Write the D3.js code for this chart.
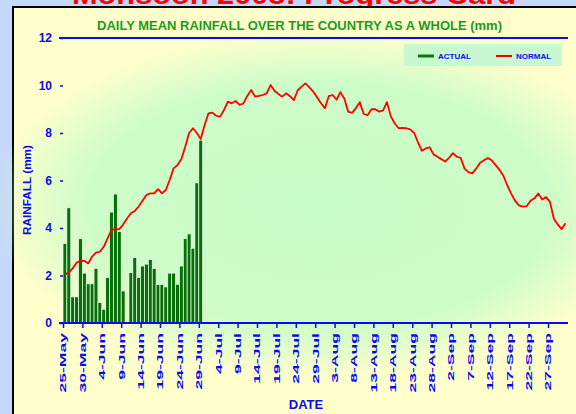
<!DOCTYPE html>
<html>
<head>
<meta charset="utf-8">
<script src="https://d3js.org/d3.v7.min.js"></script>
<style>
  body { margin: 0; background: #c6d8fa; }
  svg { display: block; }
</style>
</head>
<body>
<div class="canvas"></div>
<script>
// data (mm/day)
const startDay = "25-May-2008";
const actual = [3.35, 4.85, 1.1, 1.1, 3.55, 2.1, 1.65, 1.65, 2.3, 0.87, 0.58, 1.92,
    4.67, 5.43, 3.85, 1.35, 0, 2.12, 2.76, 1.92, 2.4, 2.48, 2.68, 2.3, 1.62, 1.62,
    1.52, 2.1, 2.1, 1.63, 2.4, 3.55, 3.75, 3.15, 5.9, 7.7];
const normal = [2.05, 2.12, 2.3, 2.54, 2.62, 2.62, 2.51, 2.79, 2.96, 3.0,
    3.21, 3.56, 3.92, 3.96, 3.94, 4.15, 4.4, 4.62, 4.72, 4.9,
    5.15, 5.39, 5.46, 5.46, 5.64, 5.46, 5.6, 6.02, 6.51, 6.65,
    6.89, 7.42, 8.0, 8.2, 8.0, 7.75, 8.34, 8.83, 8.86, 8.72,
    8.69, 8.97, 9.32, 9.25, 9.35, 9.18, 9.25, 9.56, 9.81, 9.53,
    9.56, 9.6, 9.67, 10.02, 9.78, 9.64, 9.53, 9.67, 9.55, 9.38,
    9.8, 9.95, 10.09, 9.92, 9.74, 9.5, 9.25, 9.04, 9.55, 9.6,
    9.4, 9.72, 9.45, 8.9, 8.85, 9.05, 9.3, 8.8, 8.75, 9.0,
    9.0, 8.9, 8.95, 9.3, 8.7, 8.4, 8.2, 8.22, 8.2, 8.15,
    8.0, 7.6, 7.25, 7.35, 7.4, 7.1, 7.0, 6.9, 6.8, 6.95,
    7.15, 7.0, 6.95, 6.5, 6.35, 6.3, 6.5, 6.75, 6.85, 6.95,
    6.85, 6.65, 6.45, 6.2, 5.8, 5.45, 5.15, 4.95, 4.9, 4.92,
    5.15, 5.25, 5.45, 5.2, 5.3, 5.1, 4.4, 4.15, 3.95, 4.2];
const dateTicks = ["25-May", "30-May", "4-Jun", "9-Jun", "14-Jun", "19-Jun", "24-Jun",
    "29-Jun", "4-Jul", "9-Jul", "14-Jul", "19-Jul", "24-Jul", "29-Jul", "3-Aug",
    "8-Aug", "13-Aug", "18-Aug", "23-Aug", "28-Aug", "2-Sep", "7-Sep", "12-Sep",
    "17-Sep", "22-Sep", "27-Sep"];
const yTicks = [0, 2, 4, 6, 8, 10, 12];

const font = "'Liberation Sans', Arial, sans-serif";
const blue = "#0a0af0";

const parse = d3.timeParse("%d-%b-%Y");
const start = parse(startDay);
// day i (fractions allowed) after the first day
const dayOf = i => new Date(start.getTime() + i * 864e5);

const svg = d3.select('.canvas')
    .append('svg')
        .attr('width', 576)
        .attr('height', 414);

// soft green glow in the middle of the panel
const defs = svg.append("defs");
const glow = defs.append("radialGradient")
    .attr("id", "glow");
glow.append("stop").attr("offset", "0%").attr("stop-color", "#c8fcc8").attr("stop-opacity", 1);
glow.append("stop").attr("offset", "70%").attr("stop-color", "#c8fcc8").attr("stop-opacity", 0.9);
glow.append("stop").attr("offset", "100%").attr("stop-color", "#c8fcc8").attr("stop-opacity", 0);

// big red heading, cut off at the top like the original
svg.append("text")
    .attr("x", 72)
    .attr("y", 4)
    .attr("textLength", 444)
    .attr("lengthAdjust", "spacingAndGlyphs")
    .text("Monsoon 2008: Progress Card")
    .style("font-family", font)
    .style("font-weight", "bold")
    .style("font-size", "28px")
    .style("fill", "#ff0000");

// panel
svg.append("rect")
    .attr("x", 13)
    .attr("y", 7)
    .attr("width", 570)
    .attr("height", 420)
    .style("fill", "#ffffcc")
    .style("stroke", "black")
    .style("stroke-width", 2);
svg.append("ellipse")
    .attr("cx", 320)
    .attr("cy", 205)
    .attr("rx", 330)
    .attr("ry", 175)
    .style("fill", "url(#glow)");

// scales
const x = d3.scaleTime()
    .domain([start, dayOf(130)])
    .range([63, 567.4]);
const y = d3.scaleLinear()
    .domain([0, 12])
    .range([323, 38]);

// chart title
svg.append("text")
    .attr("x", 97)
    .attr("y", 30)
    .attr("textLength", 405)
    .attr("lengthAdjust", "spacingAndGlyphs")
    .text("DAILY MEAN RAINFALL OVER THE COUNTRY AS A WHOLE (mm)")
    .style("font-family", font)
    .style("font-weight", "bold")
    .style("font-size", "13px")
    .style("fill", "#1e9a1e");

// legend
svg.append("rect")
    .attr("x", 404).attr("y", 44).attr("width", 158).attr("height", 22)
    .style("fill", "#c8f8d0");
const legend = [
    {label: "ACTUAL", x: 418, color: "#0a7a0a", h: 3},
    {label: "NORMAL", x: 496, color: "#ff0000", h: 2}
];
legend.forEach(l => {
    svg.append("rect")
        .attr("x", l.x).attr("y", 56 - l.h / 2)
        .attr("width", 16).attr("height", l.h)
        .style("fill", l.color);
    svg.append("text")
        .attr("x", l.x + 20)
        .attr("y", 59)
        .text(l.label)
        .style("font-family", font)
        .style("font-weight", "bold")
        .style("font-size", "8px")
        .style("fill", blue);
});

// bars (actual)
svg.selectAll("rect.bar")
    .data(actual)
    .enter()
    .append("rect")
        .attr("class", "bar")
        .attr("x", (d, i) => x(dayOf(i)))
        .attr("y", d => y(d))
        .attr("width", (d, i) => x(dayOf(i + 1)) - x(dayOf(i)))
        .attr("height", d => y(0) - y(d))
        .style("fill", "#067006")
        .style("stroke", "#f4fff4")
        .style("stroke-width", 0.7);

// line (normal)
const line = d3.line()
    .x((d, i) => x(dayOf(i + 0.5)))
    .y(d => y(d));
svg.append("path")
    .datum(normal)
    .attr("d", line)
    .attr("fill", "none")
    .attr("stroke", "#ff0000")
    .attr("stroke-width", 1.8)
    .attr("stroke-linejoin", "round");

// frame lines at 0 and 12
[0, 12].forEach(v => {
    svg.append("line")
        .attr("x1", 59).attr("x2", 568)
        .attr("y1", y(v)).attr("y2", y(v))
        .attr("stroke", blue)
        .attr("stroke-width", 2);
});

// Y axis
const yAxis = svg.append("g")
    .attr("transform", "translate(63,0)")
    .call(d3.axisLeft(y).tickValues(yTicks).tickSize(3).tickPadding(8));
yAxis.select(".domain").remove();
yAxis.selectAll("line").attr("stroke", blue).attr("stroke-width", 1.5);
yAxis.selectAll("text")
    .style("font-family", font)
    .style("font-weight", "bold")
    .style("font-size", "12px")
    .style("fill", blue);

// Y axis label
svg.append("text")
    .attr("text-anchor", "middle")
    .attr("transform", "translate(31,190) rotate(-90)")
    .attr("textLength", 90)
    .attr("lengthAdjust", "spacingAndGlyphs")
    .text("RAINFALL (mm)")
    .style("font-family", font)
    .style("font-weight", "bold")
    .style("font-size", "11px")
    .style("fill", blue);

// X axis
const xAxis = svg.append("g")
    .attr("transform", "translate(0," + y(0) + ")")
    .call(d3.axisBottom(x)
        .tickValues(dateTicks.map(t => parse(t + "-2008")))
        .tickSize(5)
        .tickFormat(""));
xAxis.select(".domain").remove();
xAxis.selectAll("line").attr("stroke", blue).attr("stroke-width", 1.5);

// rotated date labels, stretched like the original
svg.selectAll("text.date")
    .data(dateTicks)
    .enter()
    .append("text")
        .attr("class", "date")
        .attr("text-anchor", "end")
        .attr("dy", "0.35em")
        .attr("transform", d => `translate(${x(parse(d + "-2008"))},333) rotate(-90) scale(1.85,1)`)
        .text(d => d)
        .style("font-family", font)
        .style("font-weight", "bold")
        .style("font-size", "9.5px")
        .style("fill", blue);

// X axis label
svg.append("text")
    .attr("text-anchor", "middle")
    .attr("x", 306)
    .attr("y", 409)
    .text("DATE")
    .style("font-family", font)
    .style("font-weight", "bold")
    .style("font-size", "13px")
    .style("fill", blue);
</script>
</body>
</html>
